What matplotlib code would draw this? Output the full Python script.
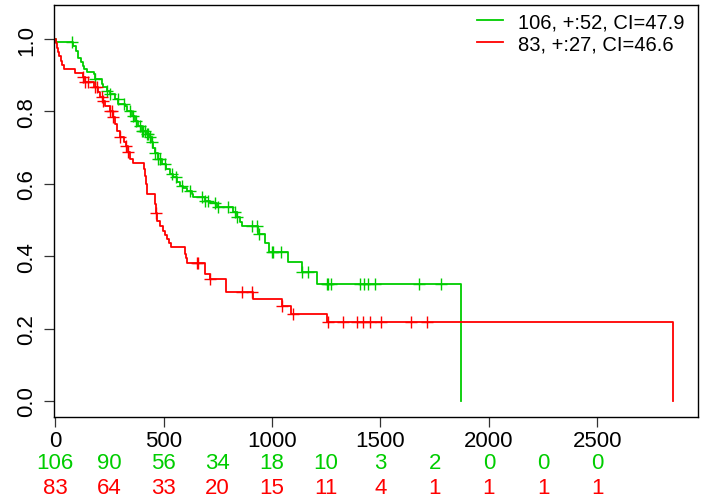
import numpy as np
import matplotlib
matplotlib.use('Agg')
import matplotlib.pyplot as plt
from matplotlib.transforms import blended_transform_factory

plt.rcParams['font.family'] = ['Liberation Sans', 'DejaVu Sans']

# group 1 (green): event times and survival just after each event
g_time = [0, 3, 82, 97, 107, 118, 128, 135, 146, 180, 184, 215, 223, 238, 254, 277, 292,
          323, 333, 354, 369, 384, 400, 423, 438, 446, 452, 461, 476, 492, 512, 530,
          545, 561, 576, 589, 607, 630, 638, 692, 715, 745, 822, 838, 853, 861, 937,
          968, 988, 1073, 1140, 1207, 1870]
g_surv = [1.0, 0.991, 0.982, 0.968, 0.949, 0.936, 0.926, 0.917, 0.908, 0.903, 0.890, 0.876,
          0.867, 0.857, 0.848, 0.834, 0.820, 0.816, 0.802, 0.788, 0.774, 0.760, 0.747,
          0.738, 0.728, 0.715, 0.700, 0.685, 0.669, 0.655, 0.641, 0.627, 0.618, 0.604,
          0.595, 0.588, 0.581, 0.572, 0.563, 0.553, 0.547, 0.535, 0.521, 0.507, 0.494,
          0.484, 0.461, 0.436, 0.412, 0.385, 0.356, 0.322, 0.0]
g_cens = [80, 184, 240, 254, 290, 318, 346, 360, 373, 392, 400, 406, 415, 423, 429, 438,
          447, 461, 476, 484, 507, 539, 558, 584, 622, 676, 692, 707, 738, 753, 799, 830,
          838, 907, 933, 942, 999, 1006, 1041, 1140, 1168, 1253, 1258, 1272, 1406, 1426,
          1444, 1477, 1680, 1778]

# group 2 (red)
r_time = [0, 3, 8, 12, 20, 26, 33, 41, 92, 127, 138, 180, 200, 207, 220, 230, 253, 266,
          277, 287, 300, 320, 327, 338, 346, 360, 412, 415, 420, 426, 461, 466, 472, 484,
          499, 508, 515, 525, 533, 599, 603, 607, 692, 715, 788, 911, 1045, 1088, 1255, 2848]
r_surv = [1.0, 0.988, 0.976, 0.964, 0.952, 0.940, 0.928, 0.917, 0.905, 0.894, 0.880, 0.868,
          0.853, 0.839, 0.830, 0.816, 0.802, 0.784, 0.765, 0.747, 0.728, 0.716, 0.705,
          0.687, 0.669, 0.657, 0.640, 0.622, 0.600, 0.572, 0.544, 0.520, 0.498, 0.484,
          0.470, 0.459, 0.448, 0.436, 0.425, 0.406, 0.394, 0.381, 0.351, 0.337, 0.300,
          0.282, 0.263, 0.240, 0.217, 0.0]
r_cens = [130, 138, 154, 184, 192, 215, 223, 254, 261, 269, 300, 327, 338, 466, 653, 661,
          715, 861, 907, 1045, 1099, 1260, 1326, 1393, 1421, 1452, 1503, 1640, 1714]

labels = ['106, +:52, CI=47.9', '83, +:27, CI=46.6']
colors = ['#00CD00', '#FF0000']

risk_times = [0, 250, 500, 750, 1000, 1250, 1500, 1750, 2000, 2250, 2500]
g_risk = [106, 90, 56, 34, 18, 10, 3, 2, 0, 0, 0]
r_risk = [83, 64, 33, 20, 15, 11, 4, 1, 1, 1, 1]


def surv_at(times, surv, t):
    i = np.searchsorted(times, t, side='right') - 1
    return np.asarray(surv)[i]


fig = plt.figure(figsize=(7.15, 5.02), dpi=100)
ax = fig.add_axes([0.0755, 0.168, 0.9003, 0.820])

groups = [(g_time, g_surv, g_cens), (r_time, r_surv, r_cens)]
for (t, s, c), col, lab in zip(groups, colors, labels):
    ax.step(t, s, where='post', color=col, lw=1.3, label=lab)
    ax.plot(c, surv_at(t, s, c), ls='none', marker='+', ms=8, mew=1.0, color=col)

ax.set_xlim(-5, 2963)
ax.set_ylim(-0.0434, 1.094)
ax.set_xticks(np.arange(0, 2501, 500))
ax.set_yticks(np.arange(0, 1.01, 0.2))
ax.set_yticklabels(['0.0', '0.2', '0.4', '0.6', '0.8', '1.0'], rotation=90, va='center')
ax.tick_params(axis='both', labelsize=16, length=7, width=0.9, color='#333333')
ax.tick_params(axis='x', pad=2.5)
ax.tick_params(axis='y', pad=5)
for sp in ax.spines.values():
    sp.set_linewidth(1.0)

ax.legend(loc='upper left', bbox_to_anchor=(0.657, 0.982), frameon=False,
          fontsize=14.5, handlelength=1.3, handletextpad=0.75, labelspacing=0.15,
          borderpad=0, borderaxespad=0)

# numbers at risk under the axis
tr = blended_transform_factory(ax.transData, ax.transAxes)
for x, gv, rv in zip(risk_times, g_risk, r_risk):
    ax.text(x, -0.112, str(gv), transform=tr, ha='center', va='center',
            fontsize=16, color=colors[0], clip_on=False)
    ax.text(x, -0.172, str(rv), transform=tr, ha='center', va='center',
            fontsize=16, color=colors[1], clip_on=False)

fig.savefig('out.png', dpi=100)
